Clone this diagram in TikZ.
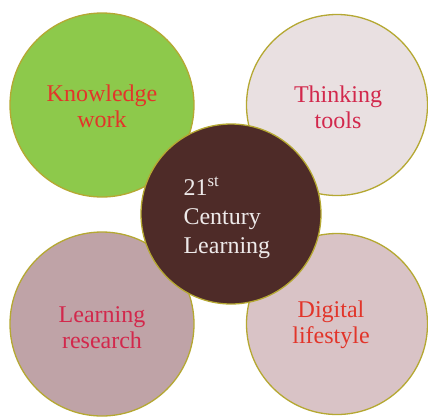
\documentclass[tikz,border=0pt]{standalone}
\usepackage{fontspec}
\setmainfont{Liberation Serif}
\definecolor{cgreen}{HTML}{8DC94B}
\definecolor{cpale}{HTML}{E9E0E1}
\definecolor{cmauve}{HTML}{BFA3A7}
\definecolor{crose}{HTML}{D9C3C6}
\definecolor{cbrown}{HTML}{4E2B28}
\definecolor{cedge}{HTML}{B5A832}
\definecolor{tred}{HTML}{E2352A}
\definecolor{tcrim}{HTML}{D2284C}
\definecolor{tlight}{HTML}{EEEAEA}
\tikzset{
  bubble/.style={circle, draw=cedge, line width=1.3pt, minimum size=#1, inner sep=0pt},
  ltext/.style={font=\fontsize{24}{26}\selectfont, align=center},
}
\begin{document}
\begin{tikzpicture}[x=1pt,y=-1pt]
\useasboundingbox (0,0) rectangle (428,416);
\fill[white] (0,0) rectangle (428,416);
\node[bubble=184pt, fill=cgreen] (kw) at (102,105) {};
\node[bubble=181pt, fill=cpale] (tt) at (337,105) {};
\node[bubble=184pt, fill=cmauve] (lr) at (102,324) {};
\node[bubble=181pt, fill=crose] (dl) at (337,324) {};
\node[bubble=180pt, fill=cbrown] (c) at (231,214) {};
\node[ltext, text=tred] (kwt) at (102,106) {Knowledge\\work};
\node[ltext, text=tcrim] (ttt) at (338,107) {Thinking\\tools};
\node[ltext, text=tcrim] (lrt) at (102,328) {Learning\\research};
\node[ltext, text=tred] (dlt) at (331,325) {Digital\\lifestyle};
\node[font=\fontsize{24}{29}\selectfont, align=left, text=tlight, anchor=west] (ct) at (180,218) {21\textsuperscript{st}\\Century\\Learning};
\end{tikzpicture}
\end{document}
